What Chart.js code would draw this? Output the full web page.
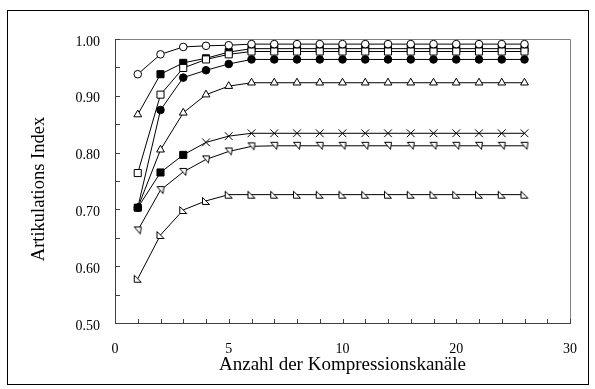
<!DOCTYPE html>
<html><head><meta charset="utf-8">
<script src="https://cdn.jsdelivr.net/npm/chart.js@4"></script>
<style>html,body{margin:0;padding:0;background:#fff;}#wrap{width:595px;height:389px;position:relative;}</style>
</head><body><div id="wrap"><canvas id="c" width="595" height="389"></canvas></div>
<script>
// channel count at each evenly spaced axis position
const axisChannels = [0,1,2,3,4,5,6,7,8,9,10,12,14,16,18,20,22,24,26,28,30];
const labelledChannels = [0,5,10,20,30];
const channels = [1,2,3,4,5,6,7,8,9,10,12,14,16,18,20,22,24,26];

const seriesCircleOpen   = [0.938,0.973,0.986,0.988,0.989,0.991,0.991,0.991,0.991,0.991,0.991,0.991,0.991,0.991,0.991,0.991,0.991,0.991];
const seriesSquareFilled = [0.867,0.938,0.958,0.966,0.977,0.983,0.983,0.983,0.983,0.983,0.983,0.983,0.983,0.983,0.983,0.983,0.983,0.983];
const seriesSquareOpen   = [0.764,0.902,0.949,0.964,0.973,0.978,0.978,0.978,0.978,0.978,0.978,0.978,0.978,0.978,0.978,0.978,0.978,0.978];
const seriesCircleFilled = [0.703,0.875,0.932,0.945,0.956,0.964,0.964,0.964,0.964,0.964,0.964,0.964,0.964,0.964,0.964,0.964,0.964,0.964];
const seriesTriangleUp   = [0.703,0.805,0.870,0.902,0.917,0.923,0.923,0.923,0.923,0.923,0.923,0.923,0.923,0.923,0.923,0.923,0.923,0.923];
const seriesCross        = [0.703,0.765,0.796,0.818,0.829,0.834,0.834,0.834,0.834,0.834,0.834,0.834,0.834,0.834,0.834,0.834,0.834,0.834];
const seriesTriangleDown = [0.663,0.734,0.766,0.788,0.802,0.811,0.812,0.812,0.812,0.812,0.812,0.812,0.812,0.812,0.812,0.812,0.812,0.812];
const seriesTriangleSide = [0.578,0.655,0.699,0.715,0.726,0.726,0.726,0.726,0.726,0.726,0.726,0.726,0.726,0.726,0.726,0.726,0.726,0.726];

const yMin = 0.5, yMax = 1.0, yLabelStep = 0.1, yMinorStep = 0.05;
const xTitle = 'Anzahl der Kompressionskanäle';
const yTitle = 'Artikulations Index';

function toPoints(vals){ return vals.map((v,i)=>({x: axisChannels.indexOf(channels[i]), y: v})); }
function makeMarker(pts){
  const c=document.createElement('canvas'); c.width=10; c.height=10;
  const g=c.getContext('2d'); g.beginPath();
  pts.forEach((p,i)=> i ? g.lineTo(p[0],p[1]) : g.moveTo(p[0],p[1]));
  g.closePath(); g.fillStyle='#fff'; g.fill(); g.strokeStyle='#000'; g.lineWidth=1; g.stroke();
  return c;
}
const markerDown = makeMarker([[1.5,1.5],[8.5,1.5],[7.5,8.5]]);
const markerSide = makeMarker([[1.5,1.5],[1.5,8.5],[8.5,8.5]]);

const n = channels.length;
const fill = (v)=> Array(n).fill(v);
function ds(label, vals, style, bg, radius){
  return { label, data: toPoints(vals), borderColor:'#000', borderWidth:1, pointStyle:style,
    pointBackgroundColor:bg, pointBorderColor:'#000', pointBorderWidth:1, pointRadius:radius,
    pointHoverRadius:radius, fill:false, tension:0, clip:false };
}
const crossStyles = fill('crossRot').map((s,i)=> i<3 ? 'rect' : s);
const crossRadius = fill(5.5).map((r,i)=> i<3 ? 5 : r);
const sqStyles = fill('rect').map((s,i)=> i===0 ? 'triangle' : s);
const sqBg = fill('#000').map((c,i)=> i===0 ? '#fff' : c);
const sqRadius = fill(5).map((r,i)=> i===0 ? 4.5 : r);

const datasets = [
  ds('A', seriesCircleOpen, 'circle', '#fff', 3.8),
  ds('C', seriesSquareOpen, 'rect', '#fff', 5),
  ds('F', seriesCross, crossStyles, '#000', crossRadius),
  ds('B', seriesSquareFilled, sqStyles, sqBg, sqRadius),
  ds('D', seriesCircleFilled, 'circle', '#000', 3.8),
  ds('E', seriesTriangleUp, 'triangle', '#fff', 4.5),
  ds('G', seriesTriangleDown, markerDown, '#fff', 4),
  ds('H', seriesTriangleSide, markerSide, '#fff', 4)
];

const FONT = "'Liberation Serif', 'Times New Roman', serif";

const framePlugin = {
  id:'frame',
  beforeDatasetsDraw(chart){
    const {ctx, chartArea:a, scales:{x, y}} = chart;
    ctx.save();
    ctx.lineWidth = 1;
    ctx.strokeStyle = '#000';
    ctx.strokeRect(7.5, 10.5, 581, 374);
    ctx.strokeStyle = '#808080';
    ctx.beginPath();
    ctx.moveTo(a.left+0.5, a.top+0.5); ctx.lineTo(a.right+0.5, a.top+0.5); ctx.lineTo(a.right+0.5, a.bottom+0.5);
    ctx.stroke();
    ctx.strokeStyle = '#404040';
    ctx.beginPath();
    ctx.moveTo(a.left+0.5, a.top+0.5); ctx.lineTo(a.left+0.5, a.bottom+0.5); ctx.lineTo(a.right+0.5, a.bottom+0.5);
    ctx.stroke();
    ctx.beginPath();
    for (let v = yMin; v <= yMax + 1e-9; v += yMinorStep){
      const py = Math.round(y.getPixelForValue(v)) + 0.5;
      ctx.moveTo(a.left, py); ctx.lineTo(a.left + 5, py);
    }
    for (let i = 0; i < axisChannels.length; i++){
      const px = Math.round(x.getPixelForValue(i)) + 0.5;
      ctx.moveTo(px, a.bottom + 1); ctx.lineTo(px, a.bottom - 4);
    }
    ctx.stroke();
    // y axis title
    ctx.fillStyle = '#000';
    ctx.font = "18.5px " + FONT;
    ctx.textAlign = 'center'; ctx.textBaseline = 'middle';
    ctx.translate(39, (a.top + a.bottom) / 2 + 8);
    ctx.rotate(-Math.PI / 2);
    ctx.fillText(yTitle, 0, 0);
    ctx.restore();
  }
};

new Chart(document.getElementById('c'), {
  type:'line',
  data:{ datasets },
  plugins:[framePlugin],
  options:{
    responsive:false, animation:false, devicePixelRatio:1,
    layout:{ padding:{ left:0, right:20, top:39, bottom:0 } },
    plugins:{ legend:{display:false}, tooltip:{enabled:false} },
    scales:{
      x:{ type:'linear', position:'bottom', min:0, max:axisChannels.length-1,
        grid:{display:false, drawTicks:false}, border:{display:false},
        ticks:{ stepSize:1, autoSkip:false, maxRotation:0, padding:18, color:'#000',
          font:{family:FONT, size:14},
          callback:(v)=>{ const ch = axisChannels[v]; return labelledChannels.includes(ch) ? String(ch) : ''; } },
        title:{ display:true, text:xTitle, color:'#000',
          font:{family:FONT, size:19}, padding:{top:0, bottom:13} },
        afterFit:(s)=>{ s.height = 66; }
      },
      y:{ type:'linear', min:yMin, max:yMax,
        grid:{display:false, drawTicks:false}, border:{display:false},
        ticks:{ stepSize:yLabelStep, padding:15, labelOffset:3, color:'#000', font:{family:FONT, size:14},
          callback:(v)=> v.toFixed(2) },
        title:{ display:false },
        afterFit:(s)=>{ s.width = 115; }
      }
    }
  }
});
</script></body></html>
